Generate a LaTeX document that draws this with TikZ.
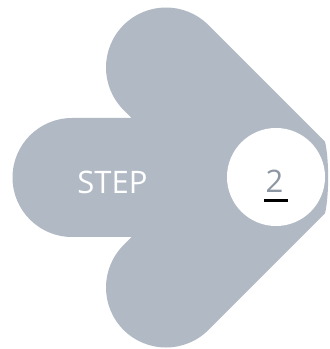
\documentclass[tikz,border=0pt]{standalone}
\usepackage{fontspec}
\setmainfont{Open Sans}
\definecolor{arrowgrey}{RGB}{177,186,196}
\definecolor{digitgrey}{RGB}{140,151,163}
\tikzset{
  arrowshape/.style={fill=arrowgrey, draw=none},
  numdisc/.style={circle, fill=white, draw=none, minimum size=98pt, inner sep=0pt},
  steplabel/.style={text=white, font=\fontsize{31}{31}\selectfont, inner sep=0pt, anchor=base},
  numlabel/.style={text=digitgrey, font=\fontsize{31}{31}\selectfont, inner sep=0pt, anchor=base},
  underlinestyle/.style={draw=black, line width=2.7pt}
}
\begin{document}
\begin{tikzpicture}[x=1pt,y=1pt]
\useasboundingbox (0,0) rectangle (330,349);
% arrow outline
\path[arrowshape]
  (72,231) -- (131.64,231) -- (123.57,239.07)
  arc[start angle=225, end angle=45, radius=60]
  -- (325,207.36)
  .. controls (329.2,190) and (329.2,153) .. (325,135.64)
  -- (208.43,19.07)
  arc[start angle=-45, end angle=-225, radius=60]
  -- (131.64,112) -- (72,112)
  arc[start angle=-90, end angle=-270, radius=59.5]
  -- cycle;
\node[numdisc] (disc) at (276,172) {};
\node[steplabel] (step) at (112.5,155) {STEP};
\node[numlabel] (two) at (274.5,156) {2};
\coordinate (ulstart) at ([xshift=-10.5pt,yshift=-7.5pt]two.base);
\coordinate (ulend) at ([xshift=13.5pt,yshift=-7.5pt]two.base);
\draw[underlinestyle] (ulstart) -- (ulend);
\end{tikzpicture}
\end{document}
